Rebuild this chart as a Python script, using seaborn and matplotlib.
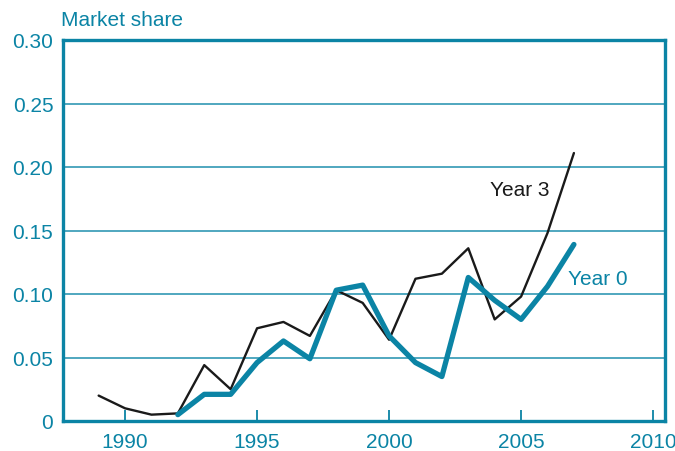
import matplotlib
matplotlib.use("Agg")
import matplotlib.pyplot as plt
import seaborn as sns
import pandas as pd

years_y3 = [1989, 1990, 1991, 1992, 1993, 1994, 1995, 1996, 1997, 1998, 1999,
            2000, 2001, 2002, 2003, 2004, 2005, 2006, 2007]
year3 = [0.020, 0.010, 0.005, 0.006, 0.044, 0.025, 0.073, 0.078, 0.067, 0.103,
         0.093, 0.064, 0.112, 0.116, 0.136, 0.080, 0.098, 0.148, 0.211]

years_y0 = [1992, 1993, 1994, 1995, 1996, 1997, 1998, 1999, 2000, 2001, 2002,
            2003, 2004, 2005, 2006, 2007]
year0 = [0.005, 0.021, 0.021, 0.046, 0.063, 0.049, 0.103, 0.107, 0.067, 0.046,
         0.035, 0.113, 0.095, 0.080, 0.106, 0.139]

yticks = [0, 0.05, 0.10, 0.15, 0.20, 0.25, 0.30]
ytick_labels = ["0", "0.05", "0.10", "0.15", "0.20", "0.25", "0.30"]
xticks = [1990, 1995, 2000, 2005, 2010]

TEAL = "#0b84a5"
FS = 15

sns.set_theme(style="white")
plt.rcParams["font.family"] = ["Liberation Sans", "DejaVu Sans"]

fig = plt.figure(figsize=(6.75, 4.52), dpi=100)
ax = fig.add_axes([63 / 675, 30 / 452, 602 / 675, 381 / 452])

for y in yticks[1:-1]:
    ax.axhline(y, color="#1f8fae", lw=1.1, zorder=1)

df3 = pd.DataFrame({"year": years_y3, "share": year3})
df0 = pd.DataFrame({"year": years_y0, "share": year0})
sns.lineplot(data=df3, x="year", y="share", ax=ax, color="#1a1a1a", lw=1.7, zorder=3)
sns.lineplot(data=df0, x="year", y="share", ax=ax, color=TEAL, lw=3.8, zorder=4,
             solid_capstyle="round")

ax.set_xlim(1987.65, 2010.45)
ax.set_ylim(0, 0.30)
ax.set_xticks(xticks)
ax.set_xticklabels([str(x) for x in xticks])
ax.set_yticks(yticks)
ax.set_yticklabels(ytick_labels)
ax.set_xlabel("")
ax.set_ylabel("")

for s in ax.spines.values():
    s.set_color(TEAL)
    s.set_linewidth(2.4)
    s.set_visible(True)

ax.tick_params(axis="x", direction="in", length=8, width=1.3, color=TEAL,
               labelcolor=TEAL, labelsize=FS, pad=8, bottom=True)
ax.tick_params(axis="y", length=0, labelcolor=TEAL, labelsize=FS, pad=7, left=True)

ax.text(2004.96, 0.182, "Year 3", color="#1a1a1a", fontsize=FS, ha="center", va="center")
ax.text(2007.9, 0.112, "Year 0", color=TEAL, fontsize=FS, ha="center", va="center")
fig.text(61 / 675, 1 - 20 / 452, "Market share", color=TEAL, fontsize=FS,
         ha="left", va="center")

fig.savefig("out.png", dpi=100)
